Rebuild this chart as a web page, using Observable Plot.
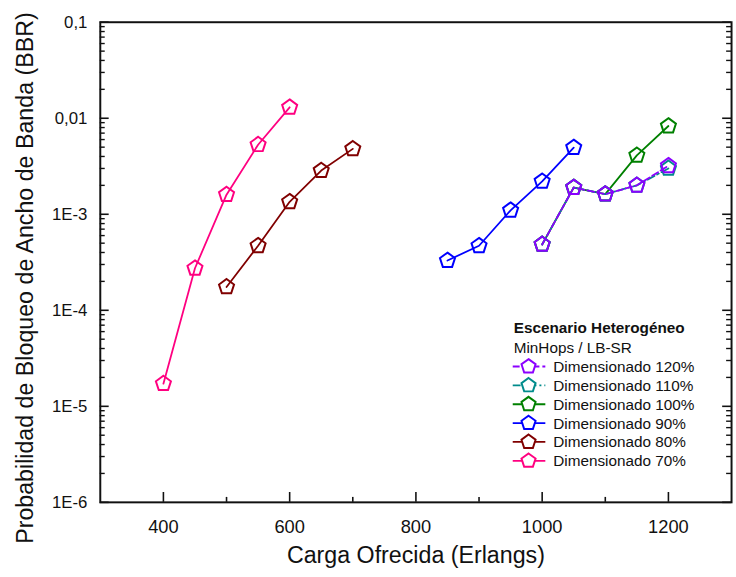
<!DOCTYPE html>
<html><head><meta charset="utf-8">
<script src="https://cdn.jsdelivr.net/npm/d3@7"></script>
<script src="https://cdn.jsdelivr.net/npm/@observablehq/plot@0.6"></script>
<style>
html,body{margin:0;padding:0;background:#fff;overflow:hidden;}
#chart{width:736px;height:577px;overflow:hidden;position:relative;}
</style>
</head><body><div id="chart"></div>
<script>
// ---- data ----
const seriesNames = ["Dimensionado 120%","Dimensionado 110%","Dimensionado 100%","Dimensionado 90%","Dimensionado 80%","Dimensionado 70%"];
const seriesColors = ["#8B00FF","#008B8B","#008000","#0000FF","#800000","#FF0080"];
const seriesDash = ["7,3","8,3,2,3",null,null,null,null];

const load70 = [400,450,500,550,600];
const bbr70  = [1.72e-5,2.74e-4,1.6e-3,5.3e-3,0.0130];
const load80 = [500,550,600,650,700];
const bbr80  = [1.75e-4,4.7e-4,1.35e-3,2.85e-3,4.8e-3];
const load90 = [850,900,950,1000,1050];
const bbr90  = [3.3e-4,4.7e-4,1.1e-3,2.2e-3,4.95e-3];
const load100 = [1000,1050,1100,1150,1200];
const bbr100  = [4.85e-4,1.9e-3,1.62e-3,4.1e-3,8.3e-3];
const load110 = [1000,1050,1100,1150,1200];
const bbr110  = [4.85e-4,1.9e-3,1.62e-3,2.0e-3,3.0e-3];
const load120 = [1000,1050,1100,1150,1200];
const bbr120  = [4.85e-4,1.9e-3,1.62e-3,2.0e-3,3.2e-3];

const yMajor = [1e-6,1e-5,1e-4,1e-3,1e-2,1e-1];
const yLabels = ["1E-6","1E-5","1E-4","1E-3","0,01","0,1"];
const xMajor = [400,600,800,1000,1200];
const xMinor = [500,700,900,1100];
const yMinor = [];
for (let e = -6; e < -1; e++) for (let m = 2; m <= 9; m++) yMinor.push(m * Math.pow(10, e));

// ---- build ----
const drawOrder = [
  {name:"Dimensionado 70%", x:load70, y:bbr70},
  {name:"Dimensionado 80%", x:load80, y:bbr80},
  {name:"Dimensionado 90%", x:load90, y:bbr90},
  {name:"Dimensionado 100%", x:load100, y:bbr100},
  {name:"Dimensionado 110%", x:load110, y:bbr110},
  {name:"Dimensionado 120%", x:load120, y:bbr120}
];
const colorOf = n => seriesColors[seriesNames.indexOf(n)];
const dashOf = n => seriesDash[seriesNames.indexOf(n)];

const pentagon = {draw(ctx, size){
  const R = Math.sqrt(size/Math.PI);
  for (let k=0;k<5;k++){
    const a = -Math.PI/2 + k*2*Math.PI/5;
    const px = R*Math.cos(a), py = R*Math.sin(a);
    if (k) ctx.lineTo(px,py); else ctx.moveTo(px,py);
  }
  ctx.closePath();
}};

const W = 745, H = 577, mL = 101, mR = 5, mT = 22, mB = 69;
const plotW = W - mL - mR, plotH = H - mT - mB;
const font = "'Liberation Sans', Arial, sans-serif";

const marks = [];
for (const s of drawOrder) {
  const rows = s.x.map((x,i)=>({load:x, bbr:s.y[i]}));
  marks.push(Plot.line(rows, {x:"load", y:"bbr", stroke: colorOf(s.name), strokeWidth: 1.8, strokeDasharray: dashOf(s.name) || undefined}));
  marks.push(Plot.dot(rows, {x:"load", y:"bbr", r: 8, symbol: pentagon, stroke: colorOf(s.name), strokeWidth: 2, fill: "none"}));
}

const chart = Plot.plot({
  width: W, height: H,
  marginLeft: mL, marginRight: mR, marginTop: mT, marginBottom: mB,
  style: {fontFamily: font, background: "#fff", color: "#111"},
  x: {domain: [300,1300]},
  y: {type: "log", domain: [1e-6, 0.1]},
  marks: [
    ...marks,
    // inward ticks
    Plot.tickY(yMajor, {y: d=>d, insetRight: plotW - 9, stroke: "#111", strokeWidth: 1.6}),
    Plot.tickY(yMinor, {y: d=>d, insetRight: plotW - 5, stroke: "#111", strokeWidth: 1.4}),
    Plot.tickY(yMajor, {y: d=>d, insetLeft: plotW - 9, stroke: "#111", strokeWidth: 1.6}),
    Plot.tickY(yMinor, {y: d=>d, insetLeft: plotW - 5, stroke: "#111", strokeWidth: 1.4}),
    Plot.tickX(xMajor, {x: d=>d, insetTop: plotH - 10, stroke: "#111", strokeWidth: 1.6}),
    Plot.tickX(xMinor, {x: d=>d, insetTop: plotH - 5, stroke: "#111", strokeWidth: 1.6}),
    Plot.frame({stroke: "#111", strokeWidth: 2}),
    Plot.axisY({ticks: yMajor, tickSize: 0, tickPadding: 13, fontSize: 17, label: null,
      tickFormat: d => yLabels[yMajor.indexOf(d)] ?? ""}),
    Plot.axisX({ticks: xMajor, tickSize: 0, tickPadding: 18, fontSize: 18.5, label: null, tickFormat: d => String(d)}),
    Plot.text(["Probabilidad de Bloqueo de Ancho de Banda (BBR)"], {text: d=>d, frameAnchor: "left", textAnchor: "middle", lineAnchor: "middle", dx: -76, dy: 16, rotate: -90, fontSize: 23.5, fill: "#111"}),
    Plot.text(["Carga Ofrecida (Erlangs)"], {text: d=>d, frameAnchor: "bottom", lineAnchor: "middle", dy: 54, fontSize: 23.5, fill: "#111"})
  ]
});
document.getElementById("chart").appendChild(chart);

// ---- legend ----
const svg = d3.select(chart);
const lg = svg.append("g").attr("font-family", font).attr("fill", "#111").attr("text-anchor", "start");
lg.append("text").attr("x", 520).attr("y", 332).attr("dy", "0.36em").attr("font-size", 15.5).attr("font-weight", "bold").text("Escenario Heterogéneo");
lg.append("text").attr("x", 520).attr("y", 352).attr("dy", "0.36em").attr("font-size", 15.5).text("MinHops / LB-SR");
const rowY0 = 371, rowDy = 19.1;
const sym = d3.symbol(pentagon, Math.PI*7.5*7.5);
seriesNames.forEach((n,i)=>{
  const y = rowY0 + i*rowDy;
  const c = seriesColors[i];
  const g = lg.append("g");
  g.append("line").attr("x1", 519).attr("x2", 552).attr("y1", y).attr("y2", y)
    .attr("stroke", c).attr("stroke-width", 1.8).attr("stroke-dasharray", seriesDash[i] || null);
  g.append("path").attr("d", sym()).attr("transform", `translate(535,${y})`)
    .attr("fill", "#fff").attr("stroke", c).attr("stroke-width", 2);
  g.append("text").attr("x", 560).attr("y", y).attr("dy", "0.36em").attr("font-size", 15.5).text(n);
});
</script>
</body></html>
